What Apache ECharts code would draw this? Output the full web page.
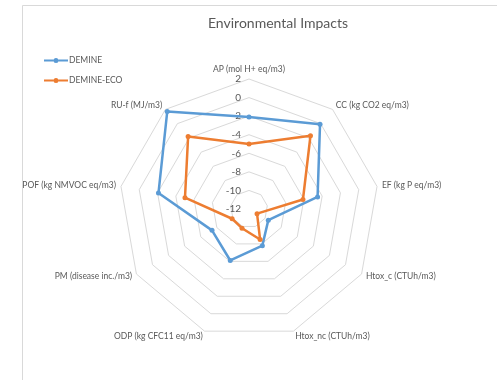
<!DOCTYPE html>
<html>
<head>
<meta charset="utf-8">
<script src="https://cdn.jsdelivr.net/npm/echarts@6/dist/echarts.min.js"></script>
<style>
  html, body { margin: 0; padding: 0; background: #fff; }
  #chart { width: 497px; height: 380px; }
</style>
</head>
<body>
<div id="chart"></div>
<script>
// categories (clockwise from the top, as in the picture)
var categories = ['AP (mol H+ eq/m3)', 'CC (kg CO2 eq/m3)', 'EF (kg P eq/m3)', 'Htox_c (CTUh/m3)',
  'Htox_nc (CTUh/m3)', 'ODP (kg CFC11 eq/m3)', 'PM (disease inc./m3)', 'POF (kg NMVOC eq/m3)', 'RU-f (MJ/m3)'];
var demine = [-2.1, -0.1, -4.5, -9.6, -7.8, -6.1, -7.4, -2.1, 1.7];
var demineEco = [-5.0, -1.7, -6.1, -11.0, -8.5, -9.8, -9.9, -5.0, -1.8];
var axisMin = -12, axisMax = 2;

var textColor = '#595959';
var font = 'Lato, "Open Sans", sans-serif';

// echarts radar goes counter-clockwise, so keep the first and flip the rest
function cw(arr) {
  return [arr[0]].concat(arr.slice(1).reverse());
}

var myChart = echarts.init(document.getElementById('chart'));

var indicators = cw(categories).map(function (c, i) {
  var ind = { name: c, min: axisMin, max: axisMax };
  if (i === 0) ind.axisLabel = { show: true };
  return ind;
});

// legend icon: line with a dot in the middle
var legendIcon = 'path://M0,2L9.5,2L9.5,4L0,4Z M14.5,2L24,2L24,4L14.5,4Z M9.5,3A2.5,2.5 0 1,1 14.5,3A2.5,2.5 0 1,1 9.5,3Z';

option = {
  animation: false,
  backgroundColor: '#fff',
  title: {
    text: 'Environmental Impacts',
    left: 273, top: 11, textAlign: 'center',
    textStyle: { color: textColor, fontSize: 14, fontWeight: 'normal', fontFamily: font }
  },
  legend: {
    orient: 'vertical', left: 39, top: 51,
    itemWidth: 24, itemHeight: 6, itemGap: 11,
    icon: legendIcon,
    textStyle: { color: textColor, fontSize: 8.5, fontFamily: font, padding: [0, 0, 0, -4] },
    data: ['DEMINE', 'DEMINE-ECO']
  },
  graphic: [{
    type: 'rect', silent: true,
    shape: { x: 22.5, y: 5.5, width: 600, height: 600 },
    style: { fill: 'none', stroke: '#d9d9d9', lineWidth: 1 }
  }],
  radar: {
    center: [249, 209],
    radius: 130,
    startAngle: 90,
    shape: 'polygon',
    splitNumber: 7,
    indicator: indicators,
    axisName: { color: textColor, fontSize: 8.5, fontFamily: font },
    nameGap: 5,
    axisLine: { show: false },
    axisTick: { show: false },
    axisLabel: { show: false, color: textColor, fontSize: 10, fontFamily: font, margin: 8 },
    splitLine: { lineStyle: { color: '#d9d9d9', width: 1 } },
    splitArea: { show: false }
  },
  series: [{
    type: 'radar',
    symbol: 'circle', symbolSize: 5,
    data: [
      { name: 'DEMINE', value: cw(demine),
        lineStyle: { color: '#5b9bd5', width: 2.5 }, itemStyle: { color: '#5b9bd5' } },
      { name: 'DEMINE-ECO', value: cw(demineEco),
        lineStyle: { color: '#ed7d31', width: 2.5 }, itemStyle: { color: '#ed7d31' } }
    ]
  }]
};
myChart.setOption(option);
</script>
</body>
</html>
